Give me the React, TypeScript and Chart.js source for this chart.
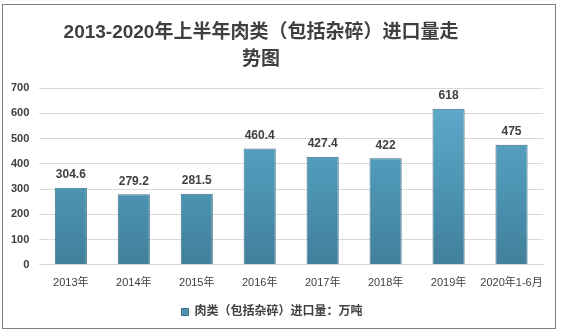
import React, { useEffect, useRef } from "react";
import { Chart, registerables } from "chart.js";

Chart.register(...registerables);

const categories = ["2013年", "2014年", "2015年", "2016年", "2017年", "2018年", "2019年", "2020年1-6月"];
const values = [304.6, 279.2, 281.5, 460.4, 427.4, 422, 618, 475];
const valueLabels = ["304.6", "279.2", "281.5", "460.4", "427.4", "422", "618", "475"];
const seriesName = "肉类（包括杂碎）进口量：万吨";
const titleLines = ["2013-2020年上半年肉类（包括杂碎）进口量走", "势图"];

const FONT = "'Liberation Sans', 'Noto Sans CJK SC', sans-serif";
const TEXT = "#404040";

const labelPlugin = {
  id: "valueLabels",
  afterDatasetsDraw(chart: any) {
    const ctx = chart.ctx;
    const meta = chart.getDatasetMeta(0);
    ctx.save();
    ctx.font = `bold 12px ${FONT}`;
    ctx.fillStyle = TEXT;
    ctx.textAlign = "center";
    ctx.textBaseline = "bottom";
    meta.data.forEach((bar: any, i: number) => {
      ctx.fillText(valueLabels[i], bar.x, bar.y - 7);
    });
    ctx.restore();
  },
};

const titlePlugin = {
  id: "customTitle",
  afterDraw(chart: any) {
    const ctx = chart.ctx;
    ctx.save();
    ctx.font = `bold 19px ${FONT}`;
    ctx.fillStyle = TEXT;
    ctx.textAlign = "center";
    ctx.textBaseline = "middle";
    ctx.fillText(titleLines[0], 261, 33);
    ctx.fillText(titleLines[1], 261, 60);
    ctx.restore();
  },
};

export default function App() {
  const ref = useRef<HTMLCanvasElement | null>(null);
  useEffect(() => {
    const canvas = ref.current!;
    const chart = new Chart(canvas, {
      type: "bar",
      data: {
        labels: categories,
        datasets: [
          {
            label: seriesName,
            data: values,
            backgroundColor: (c: any) => {
              const area = c.chart.chartArea;
              if (!area) return "#5aa3c3";
              const g = c.chart.ctx.createLinearGradient(0, area.top, 0, area.bottom);
              g.addColorStop(0, "#62acce");
              g.addColorStop(0.6, "#4c93b2");
              g.addColorStop(1, "#417f9a");
              return g;
            },
            borderColor: "#3d6f85",
            borderWidth: 1,
            categoryPercentage: 1,
            barPercentage: 0.51,
          },
        ],
      },
      options: {
        responsive: false,
        animation: false,
        layout: { padding: { left: 1, right: 18, top: 88, bottom: 4 } },
        plugins: {
          title: { display: false },
          legend: {
            position: "bottom",
            labels: {
              boxWidth: 7,
              boxHeight: 7,
              color: TEXT,
              font: { family: FONT, size: 12, weight: "bold" },
              padding: 4,
              generateLabels: () => [
                { text: seriesName, fillStyle: "#4e93b1", strokeStyle: "#3d6f85", lineWidth: 1, fontColor: TEXT, datasetIndex: 0 } as any,
              ],
            },
          },
          tooltip: { enabled: false },
        },
        scales: {
          x: {
            grid: { display: false, drawTicks: false },
            border: { display: true, color: "#d9d9d9", width: 1 },
            ticks: { color: TEXT, font: { family: FONT, size: 11 }, padding: 12, maxRotation: 0, autoSkip: false },
          },
          y: {
            min: 0,
            max: 700,
            ticks: { stepSize: 100, color: TEXT, font: { family: FONT, size: 11, weight: "bold" }, padding: 10 },
            grid: { color: "#d9d9d9", drawTicks: false },
            border: { display: false },
          },
        },
      },
      plugins: [labelPlugin, titlePlugin],
    });
    return () => chart.destroy();
  }, []);
  return (
    <div style={{ position: "fixed", left: 0, top: 0, width: 561, height: 332, background: "#fff" }}>
      <canvas ref={ref} width={561} height={332} style={{ position: "absolute", left: 0, top: 0 }} />
      <div
        style={{
          position: "absolute",
          left: 2,
          top: 4,
          width: 552,
          height: 323,
          border: "1px solid #808080",
          pointerEvents: "none",
        }}
      />
    </div>
  );
}
